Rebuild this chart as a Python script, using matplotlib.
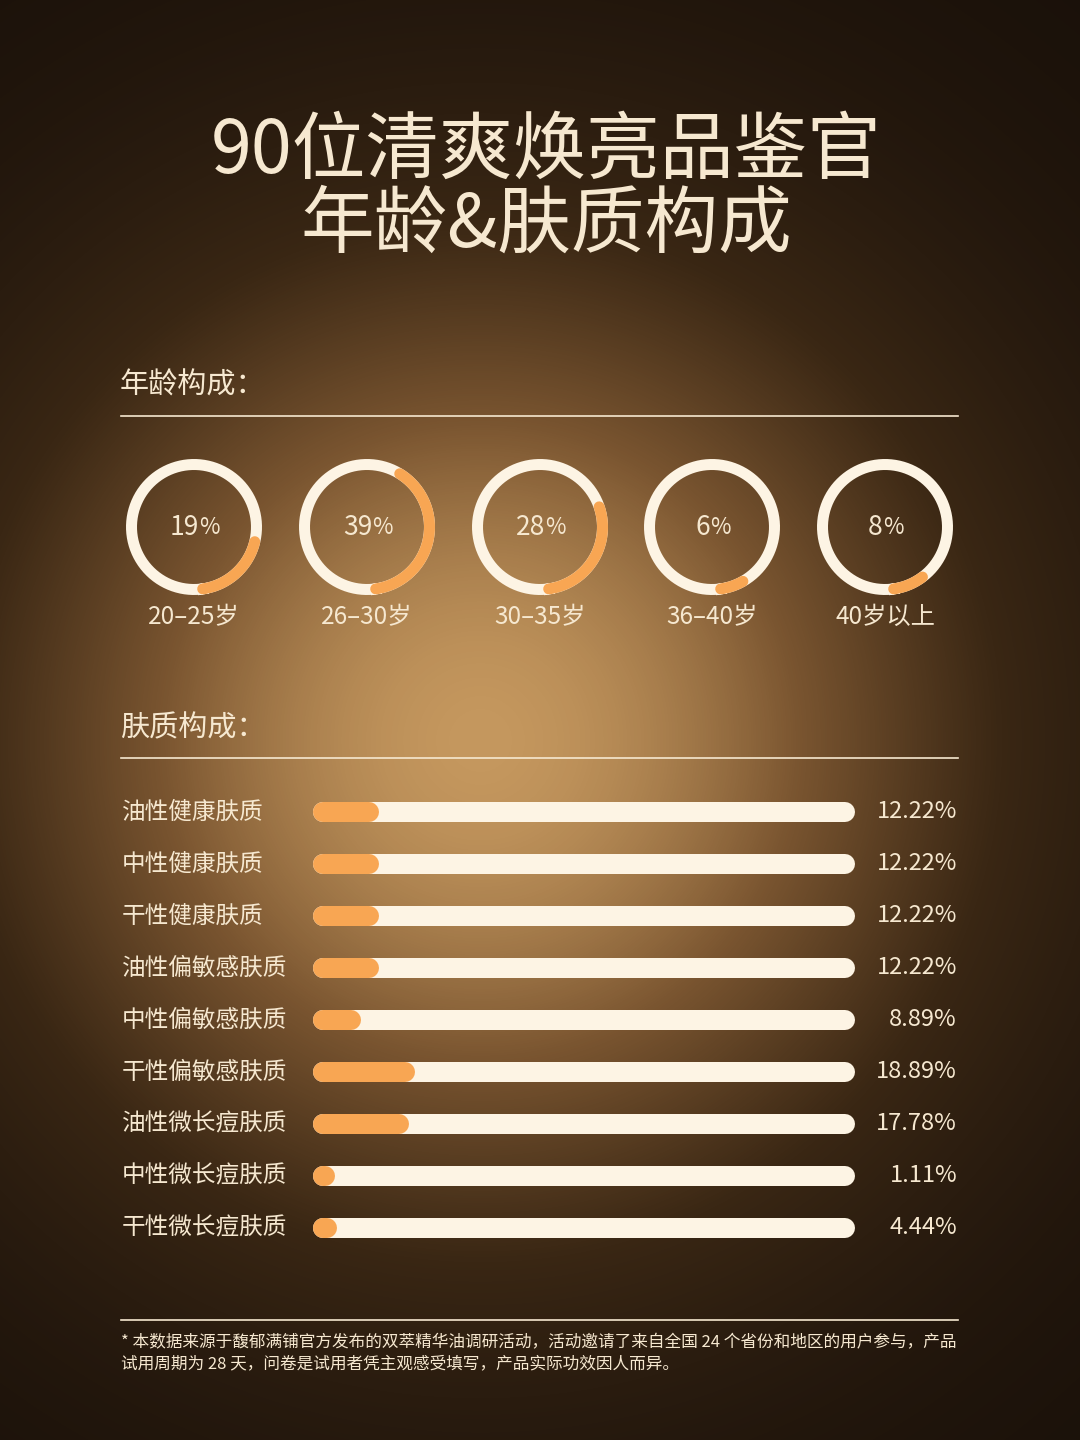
import numpy as np
import matplotlib
matplotlib.use("Agg")
import matplotlib.pyplot as plt
from matplotlib.colors import LinearSegmentedColormap

plt.rcParams['font.family'] = ['Noto Sans CJK SC', 'DejaVu Sans']

# ---- data ----
title_lines = ["90位清爽焕亮品鉴官", "年龄&肤质构成"]
age_groups = ["20–25岁", "26–30岁", "30–35岁", "36–40岁", "40岁以上"]
age_pct = [19, 39, 28, 6, 8]

skin_types = ["油性健康肤质", "中性健康肤质", "干性健康肤质", "油性偏敏感肤质",
              "中性偏敏感肤质", "干性偏敏感肤质", "油性微长痘肤质",
              "中性微长痘肤质", "干性微长痘肤质"]
skin_pct = [12.22, 12.22, 12.22, 12.22, 8.89, 18.89, 17.78, 1.11, 4.44]

footnote = ["* 本数据来源于馥郁满铺官方发布的双萃精华油调研活动，活动邀请了来自全国 24 个省份和地区的用户参与，产品",
            "试用周期为 28 天，问卷是试用者凭主观感受填写，产品实际功效因人而异。"]

# ---- styles ----
W, H = 1080, 1440
cream = '#F6E8D0'
track = '#FDF4E4'
orange = '#F8A653'
pt = 72 / 100  # px -> points at dpi 100

fig = plt.figure(figsize=(W / 100, H / 100), dpi=100)

# background: warm radial glow
bg = fig.add_axes([0, 0, 1, 1])
yy, xx = np.mgrid[0:H, 0:W]
t = np.sqrt(((xx - 480) / 640) ** 2 + ((yy - 740) / 640) ** 2)
glow = np.exp(-1.6 * t ** 2)
cmap = LinearSegmentedColormap.from_list('bg', ['#1a110a', '#3a2714', '#7a5530', '#c4975e'])
bg.imshow(glow, cmap=cmap, extent=[0, W, H, 0], aspect='auto', vmin=0.02, vmax=1)
bg.set_xlim(0, W)
bg.set_ylim(H, 0)
bg.axis('off')

# title (one text block, two lines)
bg.text(546, 189, title_lines[0] + "\n" + title_lines[1], ha='center', va='center',
        multialignment='center', color=cream, fontsize=53, linespacing=0.98)

# section headings + rules
bg.text(120, 386, "年龄构成：", ha='left', va='center', color=cream, fontsize=21)
bg.plot([121, 958], [416, 416], color=cream, lw=1.2)
bg.text(120, 728, "肤质构成：", ha='left', va='center', color=cream, fontsize=21)
bg.plot([121, 958], [758, 758], color=cream, lw=1.2)

# footer
bg.plot([121, 958], [1320, 1320], color=cream, lw=1.2)
bg.text(121, 1343, footnote[0], ha='left', va='center', color=cream, fontsize=12)
bg.text(121, 1364, footnote[1], ha='left', va='center', color=cream, fontsize=12)

# ---- donuts ----
centers_x = [194, 367, 540, 712, 885]
size = 150
for cx, lab, p in zip(centers_x, age_groups, age_pct):
    ax = fig.add_axes([(cx - size / 2) / W, 1 - (527 + size / 2) / H, size / W, size / H],
                      projection='polar')
    ax.set_theta_zero_location('S', offset=8)
    ax.set_theta_direction(1)
    ax.set_ylim(0, 1)
    ax.axis('off')
    ring_r = 62.5 / (size / 2)
    full = np.linspace(0, 2 * np.pi, 200)
    ax.plot(full, np.full_like(full, ring_r), color=track, lw=11 * pt)
    arc = np.linspace(0, p / 100 * 2 * np.pi, 100)
    ax.plot(arc, np.full_like(arc, ring_r), color=orange, lw=11 * pt,
            solid_capstyle='round')
    # number + smaller "%" centred together
    shift = (14.5 * len(str(p)) - 19) / 2
    ax.text(0.5 + shift / size, 0.5, f"{p}", transform=ax.transAxes, ha='right',
            va='center', color=cream, fontsize=19)
    ax.text(0.5 + shift / size, 0.5, "%", transform=ax.transAxes, ha='left',
            va='center', color=cream, fontsize=16)
    ax.text(0.5, 0.5 - 90 / size, lab, transform=ax.transAxes, ha='center',
            va='center', color=cream, fontsize=17.5)

# ---- skin type bars ----
x0, x1 = 313, 855
row0, step = 812, 52
n = len(skin_types)
bx = fig.add_axes([x0 / W, 1 - (row0 - step / 2 + n * step) / H, (x1 - x0) / W, n * step / H])
bx.set_xlim(0, 100)
bx.set_ylim(n - 0.5, -0.5)
bx.axis('off')
bar_h = 20
r = bar_h / 2 / (x1 - x0) * 100
for i, (name, p) in enumerate(zip(skin_types, skin_pct)):
    bx.plot([r, 100 - r], [i, i], color=track, lw=bar_h * pt, solid_capstyle='round')
    end = max(p, 2 * r + 0.3)
    bx.plot([r, end - r], [i, i], color=orange, lw=bar_h * pt, solid_capstyle='round')
    bx.text((122 - x0) / (x1 - x0) * 100, i, name, ha='left', va='center',
            color=cream, fontsize=17)
    bx.text((957 - x0) / (x1 - x0) * 100, i, f"{p:.2f}%", ha='right', va='center',
            color=cream, fontsize=17)

fig.savefig('out.png', dpi=100)
